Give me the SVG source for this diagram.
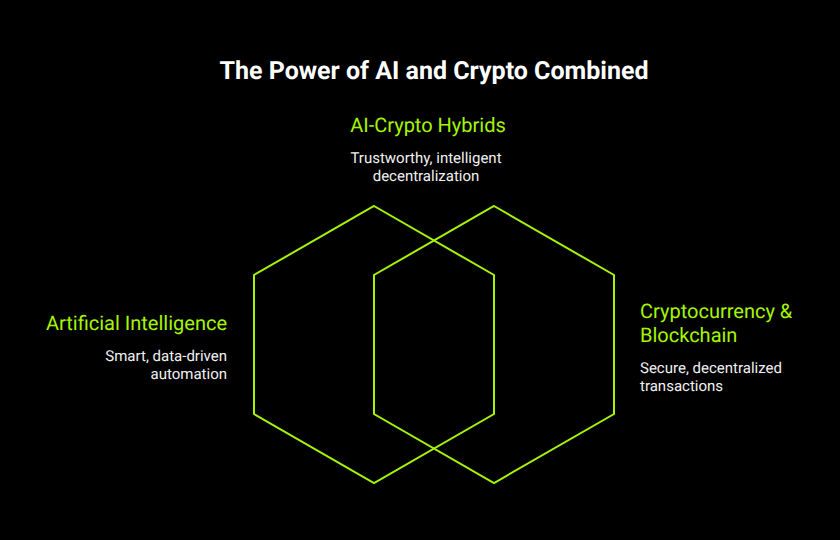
<svg xmlns="http://www.w3.org/2000/svg" width="840" height="540" viewBox="0 0 840 540">
<style>
text{text-rendering:geometricPrecision}
.hex{fill:none;stroke:#a6f500;stroke-width:2}
.title{font:700 25px Roboto,sans-serif;fill:#fff}
.head{font:400 20px Roboto,sans-serif;fill:#a6f500}
.body{font:400 15px Roboto,sans-serif;fill:#f0f0f0}
</style>
<rect width="840" height="540" fill="#000"/>
<text class="title" x="434" y="79" text-anchor="middle">The Power of AI and Crypto Combined</text>
<g id="connectors"></g>
<g id="node-ai">
<polygon class="hex" points="374,206 494,275 494,414 374,483 254,414 254,275"/>
<text class="head" x="227" y="330" text-anchor="end">Artificial Intelligence</text>
<text class="body" x="227" y="361" text-anchor="end">Smart, data-driven</text>
<text class="body" x="227" y="379" text-anchor="end">automation</text>
</g>
<g id="node-crypto">
<polygon class="hex" points="494,206 614,275 614,414 494,483 374,414 374,275"/>
<text class="head" x="640" y="318">Cryptocurrency &amp;</text>
<text class="head" x="640" y="342">Blockchain</text>
<text class="body" x="640" y="373">Secure, decentralized</text>
<text class="body" x="640" y="391">transactions</text>
</g>
<g id="node-hybrid">
<text class="head" x="428" y="132" text-anchor="middle">AI-Crypto Hybrids</text>
<text class="body" x="426" y="163" text-anchor="middle">Trustworthy, intelligent</text>
<text class="body" x="426" y="181" text-anchor="middle">decentralization</text>
</g>
</svg>
